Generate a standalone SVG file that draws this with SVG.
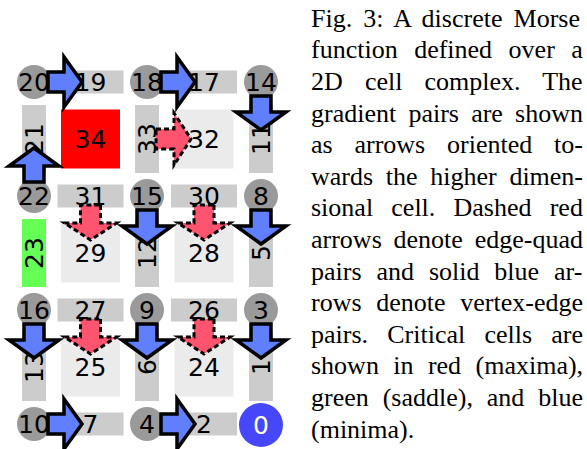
<svg xmlns="http://www.w3.org/2000/svg" xmlns:xlink="http://www.w3.org/1999/xlink" width="587" height="449" viewBox="0 0 587 449">
<defs>
<style>
.v{fill:#9a9a9a}
.e{fill:#cccccc}
.q{fill:#ebebeb}
.t{font-family:"DejaVu Sans",sans-serif;font-size:25px;fill:#000;text-anchor:middle}
.cap{font-family:"Liberation Serif","Times New Roman",serif;font-size:26px;fill:#000}
.ba{fill:#5f7fff;stroke:#000;stroke-width:3.5;stroke-linejoin:miter;stroke-miterlimit:10}
.ra{fill:#ff5470;stroke:#000;stroke-width:3;stroke-dasharray:5 3;stroke-linejoin:miter;stroke-miterlimit:10}
</style>
<path id="barrow" class="ba" d="M14,-10 L30,-10 L30,-25 L48,0 L30,25 L30,10 L14,10 Z"/>
<path id="rarrow" class="ra" d="M9,-10 L27,-10 L27,-26 L44,0 L27,26 L27,10 L9,10 Z"/>
</defs>
<rect width="587" height="449" fill="#ffffff"/>

<!-- vertices -->
<g id="v20"><circle class="v" cx="34" cy="82" r="17"/><text class="t" x="34" y="91">20</text></g>
<g id="v18"><circle class="v" cx="147" cy="82" r="17"/><text class="t" x="147" y="91">18</text></g>
<g id="v14"><circle class="v" cx="261" cy="82" r="17"/><text class="t" x="261" y="91">14</text></g>
<g id="v22"><circle class="v" cx="34" cy="196" r="17"/><text class="t" x="34" y="205">22</text></g>
<g id="v15"><circle class="v" cx="147" cy="196" r="17"/><text class="t" x="147" y="205">15</text></g>
<g id="v8"><circle class="v" cx="261" cy="196" r="17"/><text class="t" x="261" y="205">8</text></g>
<g id="v16"><circle class="v" cx="34" cy="310" r="17"/><text class="t" x="34" y="319">16</text></g>
<g id="v9"><circle class="v" cx="147" cy="310" r="17"/><text class="t" x="147" y="319">9</text></g>
<g id="v3"><circle class="v" cx="261" cy="310" r="17"/><text class="t" x="261" y="319">3</text></g>
<g id="v10"><circle class="v" cx="34" cy="424" r="17"/><text class="t" x="34" y="433">10</text></g>
<g id="v4"><circle class="v" cx="147" cy="424" r="17"/><text class="t" x="147" y="433">4</text></g>
<g id="v0"><circle cx="261" cy="425" r="22" fill="#4747fa"/><text class="t" x="261" y="434" style="fill:#ffffff">0</text></g>

<!-- horizontal edges -->
<g id="e19"><rect class="e" x="57.5" y="70.5" width="66" height="23"/><text class="t" x="90.5" y="91">19</text></g>
<g id="e17"><rect class="e" x="171" y="70.5" width="66" height="23"/><text class="t" x="204" y="91">17</text></g>
<g id="e31"><rect class="e" x="57.5" y="184.5" width="66" height="23"/><text class="t" x="90.5" y="205">31</text></g>
<g id="e30"><rect class="e" x="171" y="184.5" width="66" height="23"/><text class="t" x="204" y="205">30</text></g>
<g id="e27"><rect class="e" x="57.5" y="298.5" width="66" height="23"/><text class="t" x="90.5" y="319">27</text></g>
<g id="e26"><rect class="e" x="171" y="298.5" width="66" height="23"/><text class="t" x="204" y="319">26</text></g>
<g id="e7"><rect class="e" x="57.5" y="412.5" width="66" height="23"/><text class="t" x="90.5" y="433">7</text></g>
<g id="e2"><rect class="e" x="171" y="412.5" width="66" height="23"/><text class="t" x="204" y="433">2</text></g>

<!-- vertical edges -->
<g id="e21"><rect class="e" x="22" y="105" width="24" height="68"/><text class="t" transform="translate(34,139) rotate(-90)" x="0" y="9">21</text></g>
<g id="e33"><rect class="e" x="135" y="105" width="24" height="68"/><text class="t" transform="translate(147,139) rotate(-90)" x="0" y="9">33</text></g>
<g id="e11"><rect class="e" x="249" y="105" width="24" height="68"/><text class="t" transform="translate(261,139) rotate(-90)" x="0" y="9">11</text></g>
<g id="e23"><rect x="22" y="219" width="24" height="68" fill="#66ff55"/><text class="t" transform="translate(34,253) rotate(-90)" x="0" y="9">23</text></g>
<g id="e12"><rect class="e" x="135" y="219" width="24" height="68"/><text class="t" transform="translate(147,253) rotate(-90)" x="0" y="9">12</text></g>
<g id="e5"><rect class="e" x="249" y="219" width="24" height="68"/><text class="t" transform="translate(261,253) rotate(-90)" x="0" y="9">5</text></g>
<g id="e13"><rect class="e" x="22" y="333" width="24" height="68"/><text class="t" transform="translate(34,367) rotate(-90)" x="0" y="9">13</text></g>
<g id="e6"><rect class="e" x="135" y="333" width="24" height="68"/><text class="t" transform="translate(147,367) rotate(-90)" x="0" y="9">6</text></g>
<g id="e1"><rect class="e" x="249" y="333" width="24" height="68"/><text class="t" transform="translate(261,367) rotate(-90)" x="0" y="9">1</text></g>

<!-- quads -->
<g id="q34"><rect x="61" y="109.5" width="59" height="59" fill="#ff0000"/><text class="t" x="90.5" y="148">34</text></g>
<g id="q32"><rect class="q" x="174.5" y="109.5" width="59" height="59"/><text class="t" x="204" y="148">32</text></g>
<g id="q29"><rect class="q" x="61" y="223.5" width="59" height="59"/><text class="t" x="90.5" y="262">29</text></g>
<g id="q28"><rect class="q" x="174.5" y="223.5" width="59" height="59"/><text class="t" x="204" y="262">28</text></g>
<g id="q25"><rect class="q" x="61" y="337.5" width="59" height="59"/><text class="t" x="90.5" y="376">25</text></g>
<g id="q24"><rect class="q" x="174.5" y="337.5" width="59" height="59"/><text class="t" x="204" y="376">24</text></g>

<!-- connectors -->
<g id="connectors">
<use xlink:href="#barrow" href="#barrow" transform="translate(34,82)"/>
<use xlink:href="#barrow" href="#barrow" transform="translate(147,82)"/>
<use xlink:href="#barrow" href="#barrow" transform="translate(261,82) rotate(90)"/>
<use xlink:href="#barrow" href="#barrow" transform="translate(34,196) rotate(-90)"/>
<use xlink:href="#barrow" href="#barrow" transform="translate(147,196) rotate(90)"/>
<use xlink:href="#barrow" href="#barrow" transform="translate(261,196) rotate(90)"/>
<use xlink:href="#barrow" href="#barrow" transform="translate(34,310) rotate(90)"/>
<use xlink:href="#barrow" href="#barrow" transform="translate(147,310) rotate(90)"/>
<use xlink:href="#barrow" href="#barrow" transform="translate(261,310) rotate(90)"/>
<use xlink:href="#barrow" href="#barrow" transform="translate(34,424)"/>
<use xlink:href="#barrow" href="#barrow" transform="translate(147,424)"/>
<use xlink:href="#rarrow" href="#rarrow" transform="translate(147,139)"/>
<use xlink:href="#rarrow" href="#rarrow" transform="translate(90.5,196) rotate(90)"/>
<use xlink:href="#rarrow" href="#rarrow" transform="translate(204,196) rotate(90)"/>
<use xlink:href="#rarrow" href="#rarrow" transform="translate(90.5,310) rotate(90)"/>
<use xlink:href="#rarrow" href="#rarrow" transform="translate(204,310) rotate(90)"/>
</g>

<!-- caption -->
<g id="caption">
<text class="cap" x="311" y="26.7" word-spacing="4.6">Fig. 3: A discrete Morse</text>
<text class="cap" x="311" y="58.3" word-spacing="10">function defined over a</text>
<text class="cap" x="311" y="89.9" word-spacing="15.6">2D cell complex. The</text>
<text class="cap" x="311" y="121.5" word-spacing="5.7">gradient pairs are shown</text>
<text class="cap" x="311" y="153.1" word-spacing="15.3">as arrows oriented to-</text>
<text class="cap" x="311" y="184.7" word-spacing="6.2">wards the higher dimen-</text>
<text class="cap" x="311" y="216.3" word-spacing="11.7">sional cell. Dashed red</text>
<text class="cap" x="311" y="247.9" word-spacing="5.3">arrows denote edge-quad</text>
<text class="cap" x="311" y="279.5" word-spacing="8.4">pairs and solid blue ar-</text>
<text class="cap" x="311" y="311.1" word-spacing="8.2">rows denote vertex-edge</text>
<text class="cap" x="311" y="342.7" word-spacing="12.7">pairs. Critical cells are</text>
<text class="cap" x="311" y="374.3" word-spacing="7.9">shown in red (maxima),</text>
<text class="cap" x="311" y="405.9" word-spacing="7.4">green (saddle), and blue</text>
<text class="cap" x="311" y="437.5">(minima).</text>
</g>
</svg>
